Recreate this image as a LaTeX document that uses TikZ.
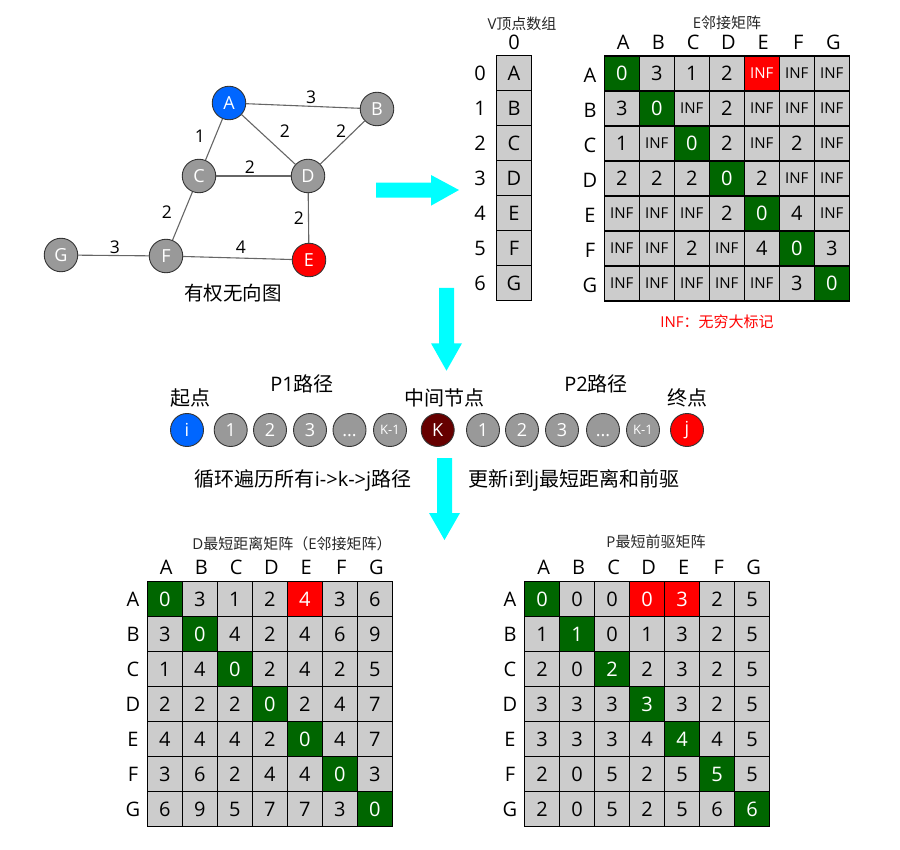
\documentclass[tikz,border=0pt]{standalone}
\usepackage{fontspec}
\setmainfont{Open Sans}
\newfontfamily\cjk{Noto Sans CJK SC}
\definecolor{cg}{HTML}{006600}
\definecolor{cr}{HTML}{FF0000}
\definecolor{cn}{HTML}{CCCCCC}
\colorlet{tg}{white}
\colorlet{tr}{white}
\colorlet{tn}{black}
\definecolor{nodegray}{HTML}{999999}
\definecolor{nodeblue}{HTML}{0066FF}
\definecolor{kred}{HTML}{660000}
\definecolor{arrowcyan}{HTML}{00FFFF}
\newcommand\fs[1]{\fontsize{#1}{#1}\selectfont}
\newcommand\INF{{\fs{15}INF}}
\tikzset{
 cell/.style={draw=black, line width=1.2pt, minimum size=35pt, inner sep=0pt, font=\fs{20}},
 gnode/.style={circle, draw=black!80, line width=0.9pt, minimum size=33.5pt, inner sep=0pt, fill=nodegray, text=white, font=\fs{18}},
 pnode/.style={gnode, minimum size=33pt, font=\fs{18}},
 gedge/.style={draw=black!60, line width=1.1pt},
 elbl/.style={font=\fs{17.5}, inner sep=0pt},
 hdr/.style={font=\fs{20}, inner sep=0pt},
 ttl/.style={font=\fs{15}, inner sep=0pt, text=black!85},
 txt/.style={font=\fs{20}, inner sep=0pt},
 bigarrow/.style={fill=arrowcyan},
}
\newcommand\mrow[5]{%
  \foreach [count=\mi from 0] \mv/\mf in {#5}
    \node[cell, fill=c\mf, text=t\mf] (#1-#2-\mi) at ({#3+\mi*35+17.5},{#4+#2*35+17.5}) {\mv};
}
\begin{document}
\begin{tikzpicture}[x=1pt,y=-1pt]
\useasboundingbox (0,0) rectangle (900,850);

% ---------- graph ----------
\node[gnode, fill=nodeblue] (A) at (229,103) {A};
\node[gnode] (B) at (377,109) {B};
\node[gnode] (C) at (199,176) {C};
\node[gnode] (D) at (308,176) {D};
\node[gnode, fill=cr] (E) at (309,260) {E};
\node[gnode] (F) at (166,256) {F};
\node[gnode] (G) at (61,255) {G};
\draw[gedge] (A) -- (B) node[elbl] at (311,97) {3};
\draw[gedge] (A) -- (C) node[elbl] at (200,136) {1};
\draw[gedge] (A) -- (D) node[elbl] at (285,131) {2};
\draw[gedge] (B) -- (D) node[elbl] at (341,131) {2};
\draw[gedge] (C) -- (D) node[elbl] at (250,167) {2};
\draw[gedge] (C) -- (F) node[elbl] at (167,212) {2};
\draw[gedge] (D) -- (E) node[elbl] at (299,218) {2};
\draw[gedge] (G) -- (F) node[elbl] at (115,247) {3};
\draw[gedge] (F) -- (E) node[elbl] at (241,247) {4};
\node[txt, font=\fs{19.5}\cjk] (gtitle) at (233,293) {有权无向图};

% ---------- arrows ----------
\fill[bigarrow] (376,182.7) -- (431,182.7) -- (431,175) -- (459,190) -- (431,205.7) -- (431,197.7) -- (376,197.7) -- cycle;
\fill[bigarrow] (439,288) -- (454,288) -- (454,343.3) -- (462,343.3) -- (446.5,370.7) -- (431,343.3) -- (439,343.3) -- cycle;
\fill[bigarrow] (437,458) -- (452,458) -- (452,513) -- (460,513) -- (444.5,540) -- (429,513) -- (437,513) -- cycle;

% ---------- V array ----------
\node[ttl] (vtitle) at (522,24) {V{\cjk 顶点数组}};
\node[hdr] (vh) at (514,42) {0};
\foreach [count=\mi from 0] \ml in {A,B,C,D,E,F,G} {
  \node[cell, fill=cn] (v-\mi) at (514,{55.5+\mi*35+17.5}) {\ml};
  \node[hdr] (vi-\mi) at (480,{55.5+\mi*35+17.5}) {\mi};
}

% ---------- E matrix ----------
\node[ttl] (etitle) at (727,23) {E{\cjk 邻接矩阵}};
\foreach [count=\mi from 0] \ml in {A,B,C,D,E,F,G} {
  \node[hdr] (eh-\mi) at ({604.3+\mi*35+19},42) {\ml};
  \node[hdr] (er-\mi) at (590,{56+\mi*35+19}) {\ml};
}
\mrow{e}{0}{604.3}{56}{0/g,3/n,1/n,2/n,\INF/r,\INF/n,\INF/n}
\mrow{e}{1}{604.3}{56}{3/n,0/g,\INF/n,2/n,\INF/n,\INF/n,\INF/n}
\mrow{e}{2}{604.3}{56}{1/n,\INF/n,0/g,2/n,\INF/n,2/n,\INF/n}
\mrow{e}{3}{604.3}{56}{2/n,2/n,2/n,0/g,2/n,\INF/n,\INF/n}
\mrow{e}{4}{604.3}{56}{\INF/n,\INF/n,\INF/n,2/n,0/g,4/n,\INF/n}
\mrow{e}{5}{604.3}{56}{\INF/n,\INF/n,2/n,\INF/n,4/n,0/g,3/n}
\mrow{e}{6}{604.3}{56}{\INF/n,\INF/n,\INF/n,\INF/n,\INF/n,3/n,0/g}
\node[ttl, text=cr] (inf) at (717,322) {INF{\cjk ：无穷大标记}};

% ---------- middle row ----------
\node[txt] (start) at (190,398) {\cjk 起点};
\node[txt] (p1) at (302,384) {P1{\cjk 路径}};
\node[txt] (mid) at (444,398) {\cjk 中间节点};
\node[txt] (p2) at (596,384) {P2{\cjk 路径}};
\node[txt] (end) at (687,398) {\cjk 终点};
\node[pnode, fill=nodeblue] (ni) at (187,430) {i};
\node[pnode] (a1) at (230.7,430) {1};
\node[pnode] (a2) at (270,430) {2};
\node[pnode] (a3) at (310,430) {3};
\node[pnode] (a4) at (349.5,430) {\vphantom{1}...};
\node[pnode, font=\fs{13}] (a5) at (390,430) {K-1};
\node[pnode, fill=kred] (nk) at (437.7,430) {K};
\node[pnode] (b1) at (483,430) {1};
\node[pnode] (b2) at (522,430) {2};
\node[pnode] (b3) at (562,430) {3};
\node[pnode] (b4) at (603,430) {\vphantom{1}...};
\node[pnode, font=\fs{13}] (b5) at (643,430) {K-1};
\node[pnode, fill=cr] (nj) at (687,430) {j};
\node[txt] (loop) at (303,480) {{\cjk 循环遍历所有}i->k->j{\cjk 路径}};
\node[txt] (upd) at (574,480) {{\cjk 更新}i{\cjk 到}j{\cjk 最短距离和前驱}};

% ---------- D matrix ----------
\node[ttl] (dtitle) at (292,544) {D{\cjk 最短距离矩阵（}E{\cjk 邻接矩阵）}};
\foreach [count=\mi from 0] \ml in {A,B,C,D,E,F,G} {
  \node[hdr] (dh-\mi) at ({147.3+\mi*35+19},567) {\ml};
  \node[hdr] (dr-\mi) at (133,{581.7+\mi*35+18}) {\ml};
}
\mrow{d}{0}{147.3}{581.7}{0/g,3/n,1/n,2/n,4/r,3/n,6/n}
\mrow{d}{1}{147.3}{581.7}{3/n,0/g,4/n,2/n,4/n,6/n,9/n}
\mrow{d}{2}{147.3}{581.7}{1/n,4/n,0/g,2/n,4/n,2/n,5/n}
\mrow{d}{3}{147.3}{581.7}{2/n,2/n,2/n,0/g,2/n,4/n,7/n}
\mrow{d}{4}{147.3}{581.7}{4/n,4/n,4/n,2/n,0/g,4/n,7/n}
\mrow{d}{5}{147.3}{581.7}{3/n,6/n,2/n,4/n,4/n,0/g,3/n}
\mrow{d}{6}{147.3}{581.7}{6/n,9/n,5/n,7/n,7/n,3/n,0/g}

% ---------- P matrix ----------
\node[ttl] (ptitle) at (656,542) {P{\cjk 最短前驱矩阵}};
\foreach [count=\mi from 0] \ml in {A,B,C,D,E,F,G} {
  \node[hdr] (ph-\mi) at ({524.7+\mi*35+19},567) {\ml};
  \node[hdr] (pr-\mi) at (510,{581.7+\mi*35+18}) {\ml};
}
\mrow{p}{0}{524.7}{581.7}{0/g,0/n,0/n,0/r,3/r,2/n,5/n}
\mrow{p}{1}{524.7}{581.7}{1/n,1/g,0/n,1/n,3/n,2/n,5/n}
\mrow{p}{2}{524.7}{581.7}{2/n,0/n,2/g,2/n,3/n,2/n,5/n}
\mrow{p}{3}{524.7}{581.7}{3/n,3/n,3/n,3/g,3/n,2/n,5/n}
\mrow{p}{4}{524.7}{581.7}{3/n,3/n,3/n,4/n,4/g,4/n,5/n}
\mrow{p}{5}{524.7}{581.7}{2/n,0/n,5/n,2/n,5/n,5/g,5/n}
\mrow{p}{6}{524.7}{581.7}{2/n,0/n,5/n,2/n,5/n,6/n,6/g}
\end{tikzpicture}
\end{document}
